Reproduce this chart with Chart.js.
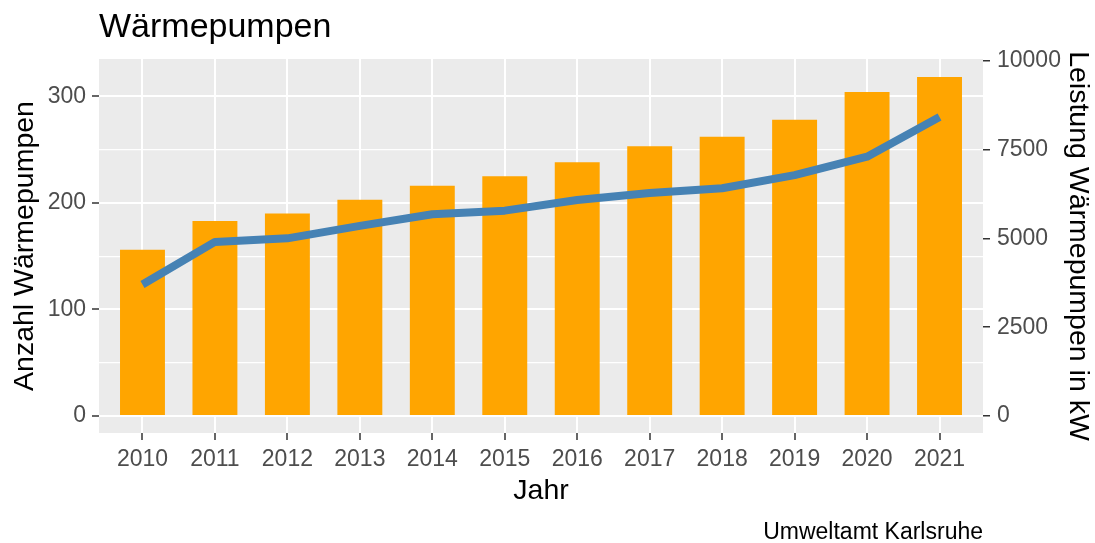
<!DOCTYPE html>
<html><head><meta charset="utf-8">
<script src="https://cdn.jsdelivr.net/npm/chart.js@4.4.1/dist/chart.umd.min.js"></script>
<style>html,body{margin:0;padding:0;background:#fff}canvas{display:block}</style>
</head><body>
<canvas id="c" width="1095" height="543"></canvas>
<script>
const years = ['2010','2011','2012','2013','2014','2015','2016','2017','2018','2019','2020','2021'];
const anzahl = [156,183,190,203,216,225,238,253,262,278,304,318];
const leistung = [3700,4900,5000,5350,5680,5780,6080,6280,6410,6780,7300,8420];
const leftMajor = [0,100,200,300];
const leftMinor = [50,150,250];
const rightMajor = [0,2500,5000,7500,10000];

const FONT = "'Liberation Sans', Arial, sans-serif";

const panelBg = {
  id: 'panelBg',
  beforeDraw(chart) {
    const {ctx, chartArea: a} = chart;
    ctx.save();
    ctx.fillStyle = '#ffffff';
    ctx.fillRect(0, 0, chart.width, chart.height);
    ctx.fillStyle = '#EBEBEB';
    ctx.fillRect(a.left, a.top, a.right - a.left, a.bottom - a.top);
    ctx.restore();
  }
};

const isMajor = c => c.tick && leftMajor.includes(c.tick.value);

new Chart(document.getElementById('c'), {
  type: 'bar',
  data: {
    datasets: [
      {
        type: 'line', label: 'Leistung Wärmepumpen in kW',
        data: years.map((_, i) => ({x: i, y: leistung[i]})),
        yAxisID: 'y1', borderColor: '#4682B4', backgroundColor: '#4682B4',
        borderWidth: 8, pointRadius: 0, tension: 0,
        borderCapStyle: 'butt', borderJoinStyle: 'round', order: 0
      },
      {
        type: 'bar', label: 'Anzahl Wärmepumpen',
        data: years.map((_, i) => ({x: i, y: anzahl[i]})),
        yAxisID: 'y', backgroundColor: '#FFA500', borderWidth: 0,
        barPercentage: 0.62, categoryPercentage: 1, order: 1
      }
    ]
  },
  options: {
    responsive: false, animation: false, devicePixelRatio: 1,
    layout: {padding: {left: 0, right: 0, top: 0, bottom: 0}},
    plugins: {
      legend: {display: false},
      tooltip: {enabled: false},
      title: {
        display: true, text: 'Wärmepumpen', align: 'start', fullSize: false,
        color: '#000', font: {family: FONT, size: 34, weight: 'normal', lineHeight: 1.2},
        padding: {top: 7.3, bottom: 10.9}
      },
      subtitle: {
        display: true, text: 'Umweltamt Karlsruhe', position: 'bottom', align: 'end', fullSize: false,
        color: '#000', font: {family: FONT, size: 23, weight: 'normal', lineHeight: 0.9},
        padding: {top: 5.3, bottom: 0}
      }
    },
    scales: {
      x: {
        type: 'linear', min: -0.6, max: 11.6, offset: false,
        afterBuildTicks: s => { s.ticks = years.map((_, i) => ({value: i})); },
        afterFit: s => { s.height = 84; },
        ticks: {
          callback: v => years[v] ?? '', color: '#4D4D4D', padding: 6,
          font: {family: FONT, size: 23}, maxRotation: 0, autoSkip: false
        },
        grid: {offset: false, color: '#ffffff', lineWidth: 2, tickColor: '#333333', tickWidth: 1.5, tickLength: 7},
        border: {display: false},
        title: {display: true, text: 'Jahr', color: '#000', font: {family: FONT, size: 28.5}, padding: {top: 0, bottom: 8.8}}
      },
      y: {
        type: 'linear', position: 'left', min: -16, max: 335,
        afterBuildTicks: s => { s.ticks = [...leftMajor, ...leftMinor].sort((a, b) => a - b).map(v => ({value: v})); },
        afterFit: s => { s.width = 99; },
        ticks: {
          callback: v => leftMajor.includes(v) ? String(v) : '', color: '#4D4D4D', padding: 6,
          font: {family: FONT, size: 23}, autoSkip: false
        },
        grid: {
          color: '#ffffff', lineWidth: c => isMajor(c) ? 2 : 1.2,
          tickColor: c => isMajor(c) ? '#333333' : 'rgba(0,0,0,0)', tickWidth: 1.5, tickLength: 7
        },
        border: {display: false},
        title: {display: true, text: 'Anzahl Wärmepumpen', color: '#000', font: {family: FONT, size: 28.5}, padding: {top: 7.6, bottom: 0}}
      },
      y1: {
        type: 'linear', position: 'right', min: -480, max: 10050,
        afterBuildTicks: s => { s.ticks = rightMajor.map(v => ({value: v})); },
        afterFit: s => { s.width = 112; },
        ticks: {
          callback: v => String(v), color: '#4D4D4D', padding: 7,
          font: {family: FONT, size: 23}, autoSkip: false
        },
        grid: {drawOnChartArea: false, color: '#333333', lineWidth: 1.5, tickLength: 7},
        border: {display: false},
        title: {display: true, text: 'Leistung Wärmepumpen in kW', color: '#000', font: {family: FONT, size: 28.5}, padding: {top: 0, bottom: 0}}
      }
    }
  },
  plugins: [panelBg]
});
</script>
</body></html>
